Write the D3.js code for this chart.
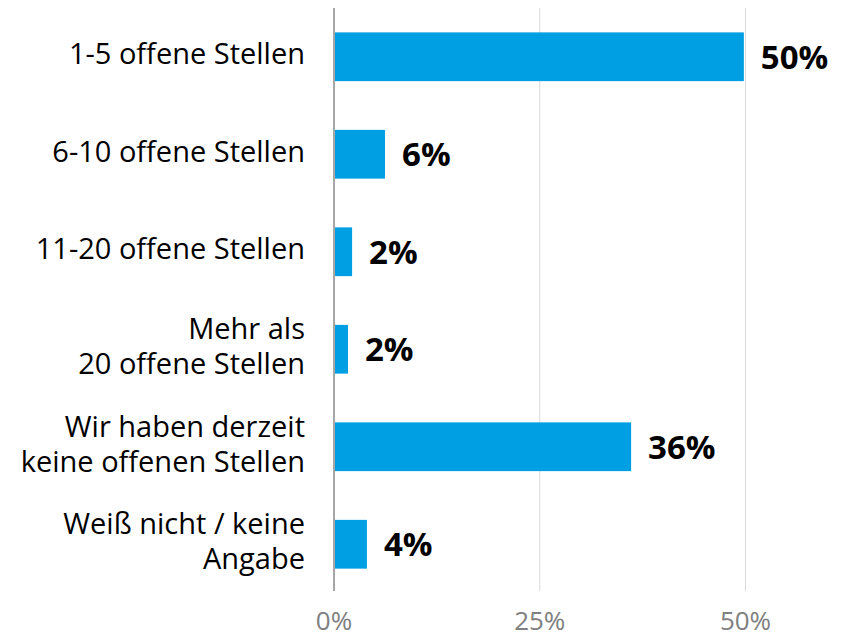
<!DOCTYPE html>
<html><head><meta charset="utf-8">
<script src="https://cdn.jsdelivr.net/npm/d3@7"></script>
<style>body{margin:0;background:#fff}svg{display:block}text{font-family:"Open Sans",sans-serif}</style>
</head><body>
<svg id="c" width="844" height="633"></svg>
<script>
const categories = [
  ["1-5 offene Stellen"],
  ["6-10 offene Stellen"],
  ["11-20 offene Stellen"],
  ["Mehr als", "20 offene Stellen"],
  ["Wir haben derzeit", "keine offenen Stellen"],
  ["Weiß nicht / keine", "Angabe"]
];
const values = [49.8, 6.2, 2.2, 1.7, 36.1, 4.0];
const valueLabels = ["50%", "6%", "2%", "2%", "36%", "4%"];
const ticks = [0, 25, 50];

const svg = d3.select("#c");
const x = d3.scaleLinear().domain([0, 50]).range([334, 745.5]);
const y = d3.scaleBand().domain(d3.range(categories.length)).range([8, 593]).paddingInner(0.5).paddingOuter(0.25);

// gridlines
svg.append("g").selectAll("line").data(ticks.slice(1)).join("line")
  .attr("x1", d => x(d)).attr("x2", d => x(d)).attr("y1", 8).attr("y2", 591)
  .attr("stroke", "#d9d9d9").attr("stroke-width", 1);

// bars
svg.append("g").selectAll("rect").data(values).join("rect")
  .attr("x", x(0)).attr("y", (d, i) => y(i)).attr("width", d => x(d) - x(0)).attr("height", y.bandwidth())
  .attr("fill", "#009FE3");

// zero axis line
svg.append("line").attr("x1", x(0)).attr("x2", x(0)).attr("y1", 8).attr("y2", 591)
  .attr("stroke", "#a6a6a6").attr("stroke-width", 2);

// value labels
svg.append("g").selectAll("text").data(values).join("text")
  .attr("x", d => x(d) + 17).attr("y", (d, i) => y(i) + y.bandwidth() / 2)
  .attr("dy", "0.36em").attr("font-size", 33).attr("font-weight", "bold").attr("fill", "#000")
  .text((d, i) => valueLabels[i]);

// category labels
const lh = 35;
svg.append("g").selectAll("text").data(categories).join("text")
  .attr("text-anchor", "end").attr("font-size", 29).attr("fill", "#000")
  .each(function(lines, i) {
    const t = d3.select(this);
    const cy = y(i) + y.bandwidth() / 2 - 3;
    lines.forEach((l, j) => {
      t.append("tspan").attr("x", 305)
        .attr("y", cy + (j - (lines.length - 1) / 2) * lh)
        .attr("dy", "0.36em").text(l);
    });
  });

// x axis tick labels
svg.append("g").selectAll("text").data(ticks).join("text")
  .attr("x", d => x(d)).attr("y", 630).attr("text-anchor", "middle")
  .attr("font-size", 26).attr("fill", "#808080")
  .text(d => d + "%");
</script>
</body></html>
